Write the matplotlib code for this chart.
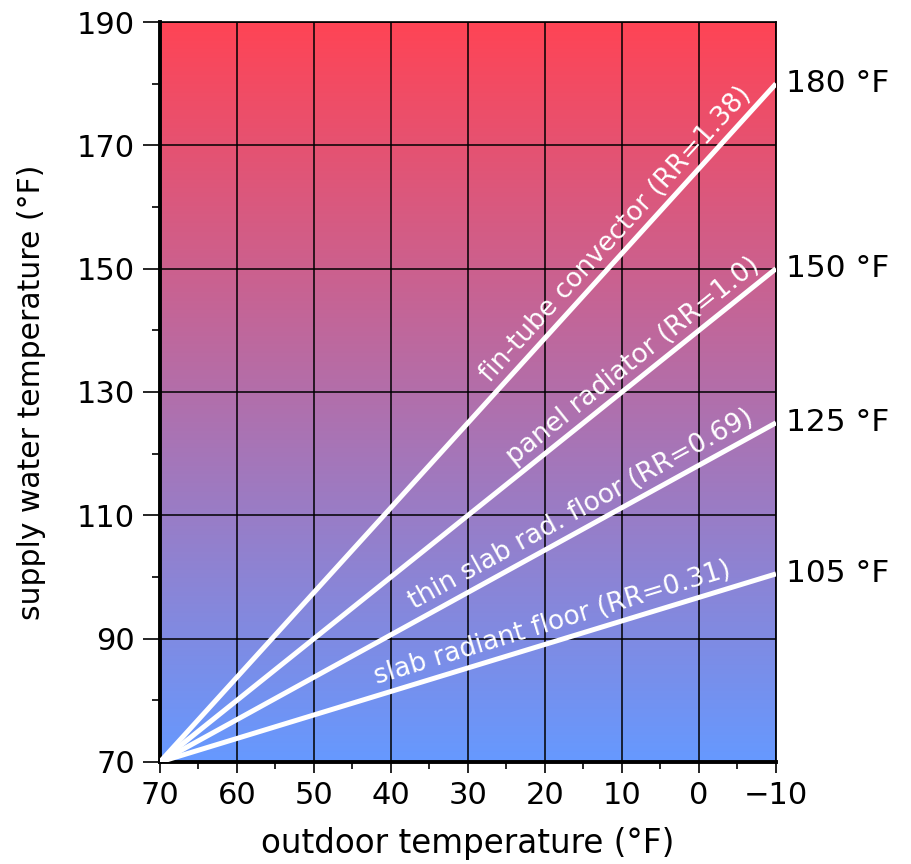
import numpy as np
import matplotlib
matplotlib.use("Agg")
import matplotlib.pyplot as plt
from matplotlib.colors import LinearSegmentedColormap
from matplotlib.ticker import MultipleLocator

# design point: 70 F outdoor -> 70 F supply, lines end at -10 F outdoor
outdoor = [70, -10]
curve_names = ["fin-tube convector (RR=1.38)", "panel radiator (RR=1.0)",
               "thin slab rad. floor (RR=0.69)", "slab radiant floor (RR=0.31)"]
supply_end = [180, 150, 125, 100.5]       # supply temp at -10 F
end_labels = ["180 °F", "150 °F", "125 °F", "105 °F"]
text_at_x = [9.5, 7.5, 14.5, 18.5]        # where each curve label sits along its line

x_ticks = [70, 60, 50, 40, 30, 20, 10, 0, -10]
y_ticks = [70, 90, 110, 130, 150, 170, 190]

plt.rcParams["font.family"] = ["DejaVu Sans"]

fig = plt.figure(figsize=(9.11, 8.64), dpi=100)
ax = fig.add_axes([0.1756, 0.1181, 0.6762, 0.8564])
ax.set_xlim(70, -10)
ax.set_ylim(70, 190)

# red-to-blue background gradient
cmap = LinearSegmentedColormap.from_list("bg", ["#6699ff", "#ff4455"])
grad = np.linspace(0, 1, 256).reshape(-1, 1)
ax.imshow(grad, cmap=cmap, aspect="auto", origin="lower",
          extent=[70, -10, 70, 190], zorder=0)

ax.set_xticks(x_ticks)
ax.set_yticks(y_ticks)
ax.set_xticklabels(["\u221210" if t < 0 else str(t) for t in x_ticks])
ax.xaxis.set_minor_locator(MultipleLocator(5))
ax.yaxis.set_minor_locator(MultipleLocator(10))
ax.grid(True, which="major", color="black", lw=1.1, zorder=1)
ax.set_axisbelow(False)
ax.tick_params(axis="both", which="major", labelsize=22, direction="out", pad=6, width=1.2)
ax.tick_params(axis="x", which="major", length=8)
ax.tick_params(axis="y", which="major", length=12)
ax.tick_params(axis="x", which="minor", length=5, width=1.2)
ax.tick_params(axis="y", which="minor", length=6, width=1.2)

for side in ["left", "bottom"]:
    ax.spines[side].set_linewidth(2.8)
for side in ["top", "right"]:
    ax.spines[side].set_linewidth(1.2)

ax.set_xlabel("outdoor temperature (°F)", fontsize=23.5, labelpad=12)
ax.set_ylabel("supply water temperature (°F)", fontsize=21.5, labelpad=22)

for name, yend, lab, tx in zip(curve_names, supply_end, end_labels, text_at_x):
    ax.plot(outdoor, [70, yend], color="white", lw=3.6, solid_capstyle="butt", zorder=3)
    # angle of the line on screen
    p0 = ax.transData.transform((outdoor[0], 70))
    p1 = ax.transData.transform((outdoor[1], yend))
    ang = np.degrees(np.arctan2(p1[1] - p0[1], p1[0] - p0[0]))
    ty = 70 + (yend - 70) * (outdoor[0] - tx) / (outdoor[0] - outdoor[1])
    ax.annotate(name, (tx, ty), xytext=(0, 4), textcoords="offset points",
                rotation=ang, rotation_mode="anchor", ha="center", va="bottom",
                color="white", fontsize=19, zorder=4)
    ax.annotate(lab, (outdoor[1], yend), xytext=(7, 0), textcoords="offset points",
                ha="left", va="center", fontsize=22.5, annotation_clip=False)

fig.savefig("out.png", dpi=100)
